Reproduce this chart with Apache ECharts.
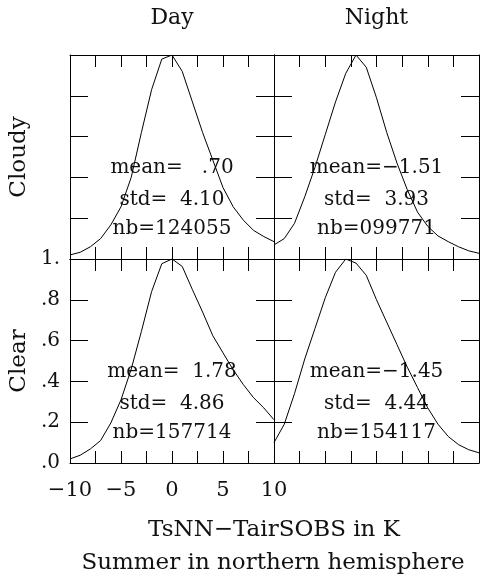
<!DOCTYPE html>
<html>
<head>
<meta charset="utf-8">
<script src="https://cdn.jsdelivr.net/npm/echarts@6/dist/echarts.min.js"></script>
<style>
  html, body { margin: 0; padding: 0; background: #fff; }
  #chart { width: 493px; height: 582px; }
</style>
</head>
<body>
<div id="chart"></div>
<script>
// bins of TsNN - TairSOBS (K), histograms normalised to their peak
var xBins = [-10, -9, -8, -7, -6, -5, -4, -3, -2, -1, 0, 1, 2, 3, 4, 5, 6, 7, 8, 9, 10];
var dayCloudy   = [0.02, 0.033, 0.06, 0.10, 0.167, 0.256, 0.40, 0.62, 0.83, 0.98, 1.0, 0.92, 0.77, 0.62, 0.485, 0.35, 0.256, 0.19, 0.14, 0.11, 0.085];
var nightCloudy = [0.069, 0.10, 0.175, 0.305, 0.45, 0.61, 0.77, 0.91, 1.0, 0.94, 0.79, 0.62, 0.47, 0.34, 0.23, 0.16, 0.113, 0.085, 0.06, 0.04, 0.028];
var dayClear    = [0.02, 0.038, 0.069, 0.11, 0.196, 0.31, 0.46, 0.645, 0.84, 0.977, 1.0, 0.964, 0.85, 0.74, 0.624, 0.54, 0.457, 0.384, 0.32, 0.27, 0.212];
var nightClear  = [0.10, 0.19, 0.34, 0.51, 0.66, 0.81, 0.935, 1.0, 0.98, 0.92, 0.80, 0.69, 0.58, 0.47, 0.37, 0.27, 0.19, 0.13, 0.09, 0.065, 0.05];

var columnTitles = ['Day', 'Night'];
var rowTitles = ['Cloudy', 'Clear'];
var statLines = [
    ['mean=   .70', 'std=  4.10', 'nb=124055'],
    ['mean=\u22121.51', 'std=  3.93', 'nb=099771'],
    ['mean=  1.78', 'std=  4.86', 'nb=157714'],
    ['mean=\u22121.45', 'std=  4.44', 'nb=154117']
];
var xTitle = 'TsNN\u2212TairSOBS in K';
var subTitle = 'Summer in northern hemisphere';

var FONT = '"DejaVu Serif", serif';
var INK = '#111';

var panels = [dayCloudy, nightCloudy, dayClear, nightClear];
var boxes = [
    { left: 70, top: 55, width: 204, height: 204 },
    { left: 274, top: 55, width: 205, height: 204 },
    { left: 70, top: 259, width: 204, height: 204 },
    { left: 274, top: 259, width: 205, height: 204 }
];

function pairs(ys) {
    return xBins.map(function (x, i) { return [x, ys[i]]; });
}

function xLabel(v) {
    if (v % 5 !== 0) return '';
    if (v === 0) return '0';
    return (v < 0 ? '\u2212' : '') + Math.abs(v);
}
function yLabel(v) {
    var t = Math.round(v * 10);
    return t === 10 ? '1.' : '.' + t;
}

var lineStyle = { color: '#000', width: 1 };
var xAxes = [], yAxes = [], series = [], grids = [], graphics = [];

boxes.forEach(function (b, i) {
    grids.push(b);
    var labelled = (i === 2);
    ['bottom', 'top'].forEach(function (pos) {
        xAxes.push({
            type: 'value', gridIndex: i, position: pos,
            min: -10, max: 10, interval: 2.5,
            axisLine: { show: true, onZero: false, lineStyle: lineStyle },
            axisTick: { show: true, inside: true, length: 12, lineStyle: lineStyle },
            splitLine: { show: false },
            axisLabel: {
                show: labelled && pos === 'bottom', formatter: xLabel,
                fontFamily: FONT, fontSize: 21, color: INK, margin: 17,
                showMinLabel: true, showMaxLabel: true
            }
        });
    });
    ['left', 'right'].forEach(function (pos) {
        yAxes.push({
            type: 'value', gridIndex: i, position: pos,
            min: 0, max: 1, interval: 0.2,
            axisLine: { show: true, onZero: false, lineStyle: lineStyle },
            axisTick: { show: true, inside: true, length: 18, lineStyle: lineStyle },
            splitLine: { show: false },
            axisLabel: {
                show: labelled && pos === 'left', formatter: yLabel,
                fontFamily: FONT, fontSize: 20, color: INK, margin: 10,
                showMinLabel: true, showMaxLabel: true
            }
        });
    });
    series.push({
        type: 'line', xAxisIndex: 2 * i, yAxisIndex: 2 * i,
        data: pairs(panels[i]),
        symbol: 'none', silent: true, animation: false,
        lineStyle: { color: '#000', width: 1 }
    });

    var cx = b.left + b.width / 2;
    statLines[i].forEach(function (s, k) {
        graphics.push({
            type: 'text', x: cx, y: b.top + [113, 145, 174][k], silent: true,
            style: { text: s, font: '20px ' + FONT, fill: INK, align: 'center', verticalAlign: 'middle' }
        });
    });
});

columnTitles.forEach(function (t, i) {
    var b = boxes[i];
    graphics.push({
        type: 'text', x: b.left + b.width / 2, y: 18,
        style: { text: t, font: '22px ' + FONT, fill: INK, align: 'center', verticalAlign: 'middle' }
    });
});
rowTitles.forEach(function (t, i) {
    var b = boxes[i * 2];
    graphics.push({
        type: 'text', x: 19, y: b.top + b.height / 2, rotation: Math.PI / 2,
        style: { text: t, font: '23px ' + FONT, fill: INK, align: 'center', verticalAlign: 'middle' }
    });
});
graphics.push({
    type: 'text', x: 274, y: 530,
    style: { text: xTitle, font: '23px ' + FONT, fill: INK, align: 'center', verticalAlign: 'middle' }
});
graphics.push({
    type: 'text', x: 273, y: 563,
    style: { text: subTitle, font: '23px ' + FONT, fill: INK, align: 'center', verticalAlign: 'middle' }
});

var chart = echarts.init(document.getElementById('chart'), null, { renderer: 'canvas' });
chart.setOption({
    backgroundColor: '#fff',
    animation: false,
    grid: grids,
    xAxis: xAxes,
    yAxis: yAxes,
    series: series,
    graphic: graphics
});
</script>
</body>
</html>
